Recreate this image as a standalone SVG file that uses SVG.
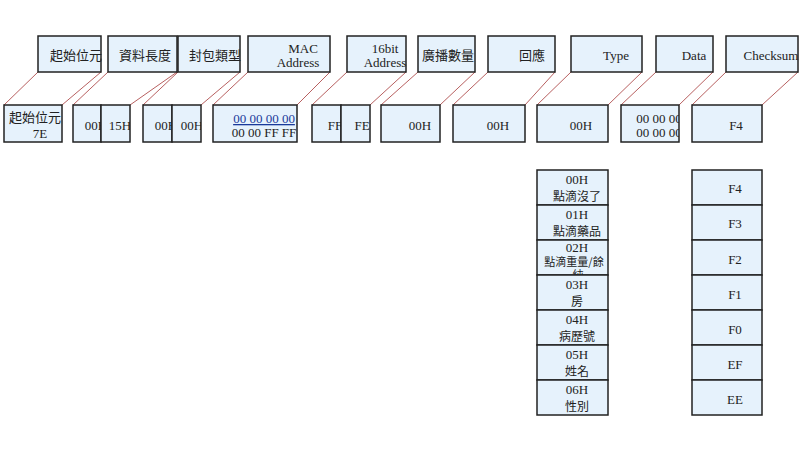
<svg xmlns="http://www.w3.org/2000/svg" width="800" height="450" viewBox="0 0 800 450">
<style>
rect{fill:#e6f2fc;stroke:#222;stroke-width:1.5}
text{font-family:"Liberation Serif","Noto Sans CJK TC",serif;font-size:13px;fill:#222;text-anchor:middle}
.c{font-family:"Noto Sans CJK TC","Liberation Sans",sans-serif;font-size:12px}
#conn line{stroke:#b86060;stroke-width:1}
</style>
<defs>
<clipPath id="k1"><rect x="73" y="105" width="28" height="37"/></clipPath>
<clipPath id="k2"><rect x="101" y="105" width="29" height="37"/></clipPath>
<clipPath id="k3"><rect x="143" y="105" width="29" height="37"/></clipPath>
<clipPath id="k4"><rect x="172" y="105" width="29" height="37"/></clipPath>
<clipPath id="k5"><rect x="312" y="105" width="29" height="37"/></clipPath>
<clipPath id="k6"><rect x="341" y="105" width="29" height="37"/></clipPath>
<clipPath id="k7"><rect x="621" y="105" width="58" height="37"/></clipPath>
<clipPath id="k8"><rect x="537" y="240" width="71" height="35"/></clipPath>
</defs>
<g id="conn">
<line x1="38" y1="72" x2="4" y2="105"/><line x1="101" y1="72" x2="62" y2="105"/>
<line x1="108" y1="72" x2="73" y2="105"/><line x1="177" y1="72" x2="130" y2="105"/>
<line x1="178" y1="72" x2="143" y2="105"/><line x1="240" y1="72" x2="201" y2="105"/>
<line x1="248" y1="72" x2="213" y2="105"/><line x1="330" y1="72" x2="297" y2="105"/>
<line x1="347" y1="72" x2="312" y2="105"/><line x1="406" y1="72" x2="370" y2="105"/>
<line x1="418" y1="72" x2="381" y2="105"/><line x1="475" y1="72" x2="440" y2="105"/>
<line x1="488" y1="72" x2="453" y2="105"/><line x1="555" y1="72" x2="525" y2="105"/>
<line x1="571" y1="72" x2="537" y2="105"/><line x1="642" y1="72" x2="608" y2="105"/>
<line x1="656" y1="72" x2="621" y2="105"/><line x1="713" y1="72" x2="679" y2="105"/>
<line x1="726" y1="72" x2="692" y2="105"/><line x1="798" y1="72" x2="762" y2="105"/>
</g>
<g id="t1"><rect x="38" y="36" width="63" height="36"/><text class="c" x="76" y="60" style="font-size:13px">起始位元</text></g>
<g id="t2"><rect x="108" y="36" width="69" height="36"/><text class="c" x="145" y="60" style="font-size:13px">資料長度</text></g>
<g id="t3"><rect x="178" y="36" width="62" height="36"/><text class="c" x="215" y="60" style="font-size:13px">封包類型</text></g>
<g id="t4"><rect x="248" y="36" width="82" height="36"/><text x="303" y="53">MAC</text><text x="298" y="67">Address</text></g>
<g id="t5"><rect x="347" y="36" width="59" height="36"/><text x="385" y="53">16bit</text><text x="385" y="67">Address</text></g>
<g id="t6"><rect x="418" y="36" width="57" height="36"/><text class="c" x="448" y="60" style="font-size:13px">廣播數量</text></g>
<g id="t7"><rect x="488" y="36" width="67" height="36"/><text class="c" x="532" y="60" style="font-size:13px">回應</text></g>
<g id="t8"><rect x="571" y="36" width="71" height="36"/><text x="616" y="60">Type</text></g>
<g id="t9"><rect x="656" y="36" width="57" height="36"/><text x="694" y="60">Data</text></g>
<g id="t10"><rect x="726" y="36" width="72" height="36"/><text x="771" y="60">Checksum</text></g>

<g id="b1"><rect x="4" y="105" width="58" height="37"/><text class="c" x="35" y="122" style="font-size:13px">起始位元</text><text x="40" y="138">7E</text></g>
<g id="b2"><rect x="73" y="105" width="28" height="37"/><rect x="101" y="105" width="29" height="37"/><text x="96" y="130" clip-path="url(#k1)">00H</text><text x="120" y="130" clip-path="url(#k2)">15H</text></g>
<g id="b3"><rect x="143" y="105" width="29" height="37"/><rect x="172" y="105" width="29" height="37"/><text x="166" y="130" clip-path="url(#k3)">00H</text><text x="192" y="130" clip-path="url(#k4)">00H</text></g>
<g id="b4"><rect x="213" y="105" width="84" height="37"/><text x="264" y="123" style="fill:#1a3a9a;text-decoration:underline">00 00 00 00</text><text x="264" y="137">00 00 FF FF</text></g>
<g id="b5"><rect x="312" y="105" width="29" height="37"/><rect x="341" y="105" width="29" height="37"/><text x="335" y="130" clip-path="url(#k5)">FF</text><text x="362" y="130" clip-path="url(#k6)">FE</text></g>
<g id="b6"><rect x="381" y="105" width="59" height="37"/><text x="420" y="130">00H</text></g>
<g id="b7"><rect x="453" y="105" width="72" height="37"/><text x="498" y="130">00H</text></g>
<g id="b8"><rect x="537" y="105" width="71" height="37"/><text x="581" y="130">00H</text></g>
<g id="b9"><rect x="621" y="105" width="58" height="37"/><g clip-path="url(#k7)"><text x="659" y="123">00 00 00</text><text x="659" y="137">00 00 00</text></g></g>
<g id="b10"><rect x="692" y="105" width="70" height="37"/><text x="736" y="130">F4</text></g>

<g id="l0"><rect x="537" y="170" width="71" height="35"/><text x="577" y="184">00H</text><text class="c" x="577" y="201">點滴沒了</text></g>
<g id="l1"><rect x="537" y="205" width="71" height="35"/><text x="577" y="219">01H</text><text class="c" x="577" y="236">點滴藥品</text></g>
<g id="l2"><rect x="537" y="240" width="71" height="35"/><g clip-path="url(#k8)"><text x="577" y="252">02H</text><text class="c" x="574" y="266" style="font-size:11px">點滴重量/餘</text><text class="c" x="578" y="279" style="font-size:11px">純</text></g></g>
<g id="l3"><rect x="537" y="275" width="71" height="35"/><text x="577" y="289">03H</text><text class="c" x="577" y="306">房</text></g>
<g id="l4"><rect x="537" y="310" width="71" height="35"/><text x="577" y="324">04H</text><text class="c" x="577" y="341">病歷號</text></g>
<g id="l5"><rect x="537" y="345" width="71" height="35"/><text x="577" y="359">05H</text><text class="c" x="577" y="376">姓名</text></g>
<g id="l6"><rect x="537" y="380" width="71" height="35"/><text x="577" y="394">06H</text><text class="c" x="577" y="411">性別</text></g>

<g id="r0"><rect x="692" y="170" width="70" height="35"/><text x="735" y="193">F4</text></g>
<g id="r1"><rect x="692" y="205" width="70" height="35"/><text x="735" y="228">F3</text></g>
<g id="r2"><rect x="692" y="240" width="70" height="35"/><text x="735" y="264">F2</text></g>
<g id="r3"><rect x="692" y="275" width="70" height="35"/><text x="735" y="299">F1</text></g>
<g id="r4"><rect x="692" y="310" width="70" height="35"/><text x="735" y="334">F0</text></g>
<g id="r5"><rect x="692" y="345" width="70" height="35"/><text x="735" y="369">EF</text></g>
<g id="r6"><rect x="692" y="380" width="70" height="35"/><text x="735" y="404">EE</text></g>
</svg>
